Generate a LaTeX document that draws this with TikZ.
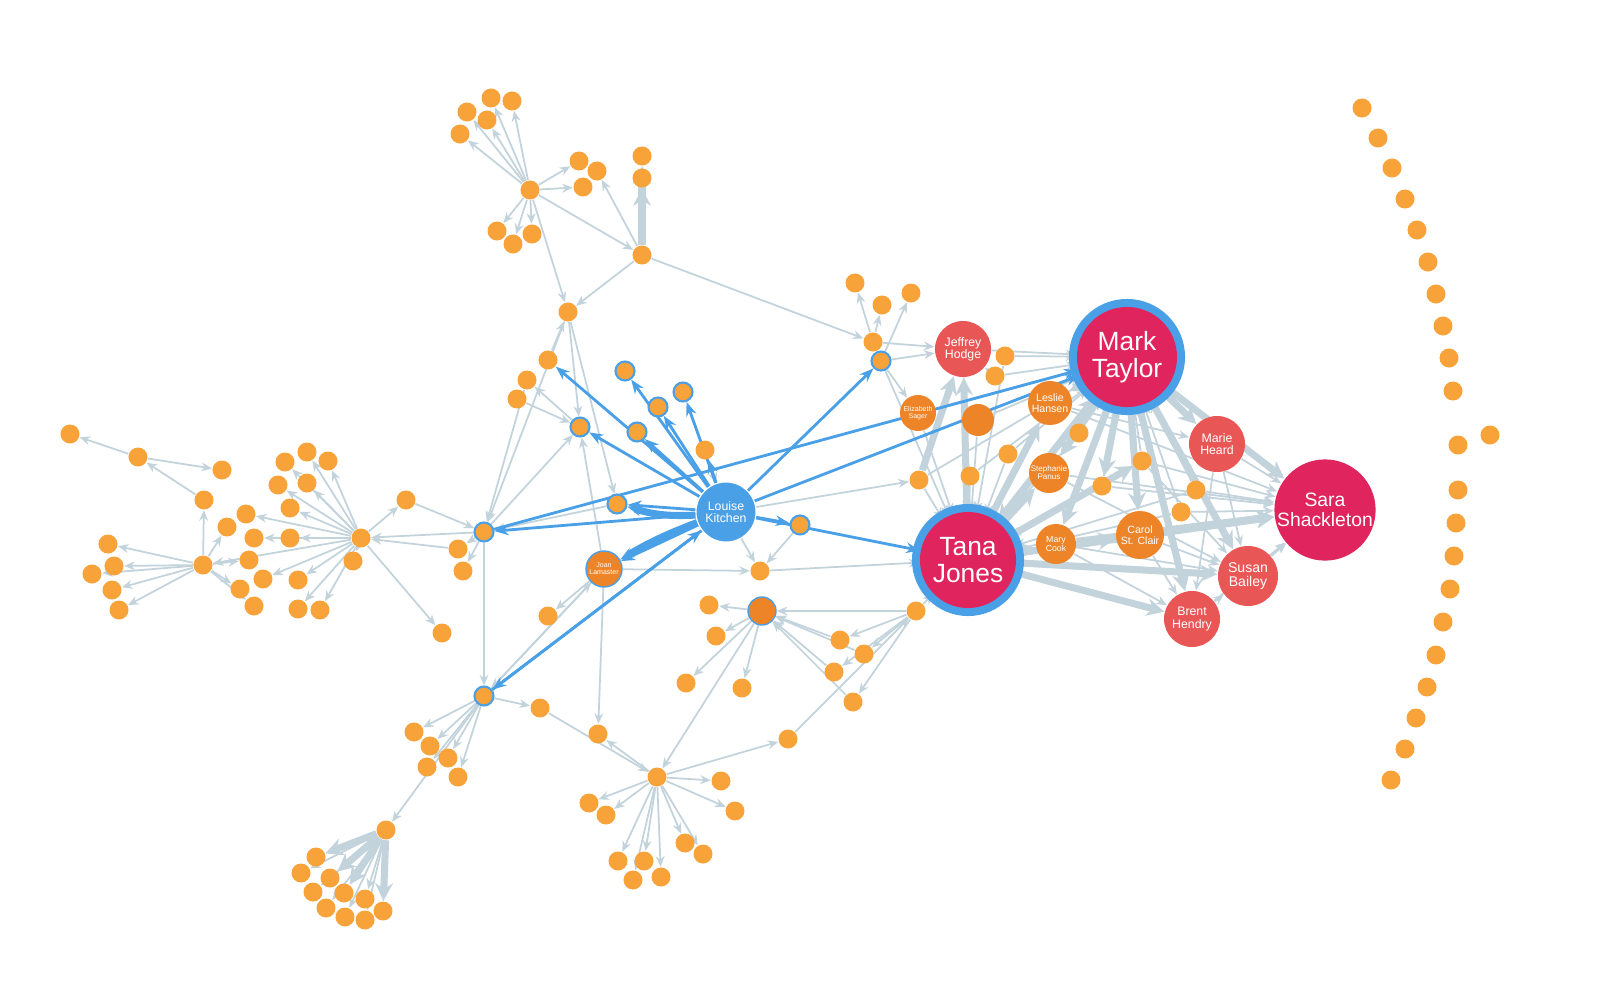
\documentclass[tikz,border=0pt]{standalone}
\usepackage{fontspec}
\setmainfont{Liberation Sans}
\usetikzlibrary{arrows.meta,backgrounds}
\definecolor{dotorange}{HTML}{F8A23A}
\definecolor{deeporange}{HTML}{EE8428}
\definecolor{hubblue}{HTML}{4AA0E6}
\definecolor{edgegrey}{HTML}{C2D3DC}
\definecolor{bigred}{HTML}{E0245E}
\definecolor{midred}{HTML}{E95656}

\begin{document}
\begin{tikzpicture}[x=0.01cm,y=-0.01cm,
    dot/.style={circle,fill=dotorange,minimum size=0.19cm,inner sep=0pt},
    ringdot/.style={dot,draw=hubblue,line width=0.6pt},
    person/.style={circle,text=white,align=center,inner sep=0pt,font=\fontsize{#1}{#1}\selectfont},
    edge/.style={draw=edgegrey,line width=0.5pt,-{Stealth[length=3pt,width=2.5pt]}},
    fatedge/.style={edge,line width=2pt,-{Stealth[length=5pt,width=5pt]}},
    blueedge/.style={draw=hubblue,line width=0.8pt,-{Stealth[length=4pt,width=3pt]}}]
  \useasboundingbox (0,0) rectangle (1600,1000);

  % small orange nodes
  \foreach \n/\x/\y in {t1/491/98,t2/512/101,t3/467/112,t4/487/120,t5/460/134,hubA/530/190,
      t6/579/161,t7/597/171,t8/583/187,t9/642/156,t10/642/178,hubB/642/255,t11/497/231,
      t12/513/244,t13/532/234,n/568/312,
      l1/70/434,l2/138/457,l3/222/470,l4/204/500,l5/246/514,l6/227/527,l7/254/538,l8/249/560,
      l9/203/565,l10/108/544,l11/114/566,l12/92/574,l13/112/590,l14/119/610,l15/240/589,
      l16/254/606,l17/263/579,l18/298/580,l19/298/609,l20/320/610,l21/290/538,l22/290/508,
      l23/278/485,l24/307/483,l25/285/462,l26/307/452,l27/328/461,hubL/361/538,l28/353/561,
      l29/406/500,l30/458/549,l31/463/571,l32/442/633,
      c2/548/360,c3/527/380,c4/517/399,c10/705/450,c13/760/571,c15/709/605,c16/716/636,
      c17/686/683,c18/742/688,c19/548/616,
      r1/855/283,r2/882/305,r3/911/293,r4/873/342,r6/1005/356,r7/995/376,
      r8/1079/433,r9/1008/454,r10/970/476,r11/919/480,r12/1142/461,r13/1102/486,r14/1196/490,
      r15/1181/512,r16/916/611,r17/840/640,r18/864/654,r19/834/672,r20/853/702,
      b2/540/708,b3/414/732,b4/430/746,b5/448/758,b6/427/767,b7/458/777,b8/598/734,
      b9/788/739,hubC/657/777,b10/721/781,b11/589/803,b12/606/815,b13/735/811,b14/618/861,
      b15/644/861,b16/633/880,b17/661/877,b18/685/843,b19/703/854,
      hubD/386/830,d1/316/857,d2/301/873,d3/330/878,d4/313/892,d5/344/893,d6/365/899,
      d7/383/911,d8/326/908,d9/345/917,d10/365/920}
    \node[dot] (\n) at (\x,\y) {};
  \foreach \n/\x/\y in {c1/484/532,c5/580/427,c6/625/371,c7/658/407,c8/683/392,c9/637/432,
      c11/617/504,c12/800/525,r5/881/361,b1/484/696}
    \node[ringdot] (\n) at (\x,\y) {};
  \node[dot,fill=deeporange,minimum size=0.28cm,draw=hubblue] (c14) at (762,611) {};

  % the arc of unconnected nodes
  \foreach \x/\y [count=\i] in {1362/108,1378/138,1392/168,1405/199,1417/230,1428/262,
      1436/294,1443/326,1449/358,1453/391,1458/445,1458/490,1456/523,1454/556,1450/589,
      1443/622,1436/655,1427/687,1416/718,1405/749,1391/780}
    \node[dot] (arc\i) at (\x,\y) {};
  \node[dot] (arcx) at (1490,435) {};

  % named people
  \fill[hubblue] (1127,357) circle (0.58cm);
  \fill[hubblue] (968,560) circle (0.56cm);
  \node[person=7.5pt,fill=bigred,minimum size=1cm] (mark) at (1127,357) {Mark\\Taylor};
  \node[person=7.5pt,fill=bigred,minimum size=0.96cm] (tana) at (968,560) {Tana\\Jones};
  \node[person=5.5pt,fill=bigred,minimum size=0.9cm] (sara) at (1325,510) {Sara\\Shackleton};
  \node[person=3.5pt,fill=hubblue,minimum size=0.6cm,draw=white,line width=0.3pt] (louise) at (726,512) {Louise\\Kitchen};
  \node[person=3.5pt,fill=midred,minimum size=0.56cm] (jeffrey) at (963,349) {Jeffrey\\Hodge};
  \node[person=3.5pt,fill=midred,minimum size=0.56cm] (marie) at (1217,444) {Marie\\Heard};
  \node[person=4pt,fill=midred,minimum size=0.6cm] (susan) at (1248,576) {Susan\\Bailey};
  \node[person=3.5pt,fill=midred,minimum size=0.56cm] (brent) at (1192,619) {Brent\\Hendry};
  \node[person=3pt,fill=deeporange,minimum size=0.44cm] (leslie) at (1050,403) {Leslie\\Hansen};
  \node[person=2.3pt,fill=deeporange,minimum size=0.4cm] (stephanie) at (1049,473) {Stephanie\\Panus};
  \node[person=2.5pt,fill=deeporange,minimum size=0.4cm] (mary) at (1056,544) {Mary\\Cook};
  \node[person=3pt,fill=deeporange,minimum size=0.48cm] (carol) at (1140,535) {Carol\\St. Clair};
  \node[person=2pt,fill=deeporange,minimum size=0.36cm] (eliz) at (918,413) {Elizabeth\\Sager};
  \node[person=2pt,fill=deeporange,minimum size=0.32cm] (unl) at (978,420) {};
  \node[person=2pt,fill=deeporange,minimum size=0.36cm,draw=hubblue] (joan) at (604,569) {Joan\\Lamaster};

  \begin{scope}[on background layer]
  % grey connectors
  \foreach \a/\b in {hubA/t1,hubA/t2,hubA/t3,hubA/t4,hubA/t5,hubA/t11,hubA/t12,hubA/t13,
      hubA/t6,hubA/t8,hubA/hubB,hubA/n,hubB/t7,hubB/n,hubB/r4,n/c5,n/c1,n/c11,c5/c3,c2/n,
      hubL/l22,hubL/l23,hubL/l24,hubL/l25,hubL/l26,hubL/l27,hubL/l21,hubL/l18,hubL/l19,
      hubL/l20,hubL/l5,hubL/l7,hubL/l17,hubL/l28,hubL/l29,c1/hubL,hubL/l9,hubL/l32,
      l9/l10,l9/l11,l9/l12,l9/l13,l9/l14,l9/l4,l9/l8,l9/l6,l9/l15,l9/l16,l2/l1,l2/l3,l4/l2,
      c1/l30,c1/l31,c1/b1,c1/c5,joan/c5,joan/b1,joan/c13,joan/b8,joan/c19,c4/c5,
      c14/c15,c14/c16,c14/c17,c14/c18,c14/hubC,r16/c14,r17/c14,r18/c14,r19/c14,r20/c14,
      r16/r17,r16/r18,r16/r19,r16/r20,r16/tana,c13/tana,
      b1/b3,b1/b4,b1/b5,b1/b6,b1/b7,b1/hubD,b1/b2,b1/joan,
      hubC/b8,hubC/b9,hubC/b10,hubC/b11,hubC/b12,hubC/b13,hubC/b14,hubC/b15,hubC/b16,
      hubC/b17,hubC/b18,hubC/b19,b2/hubC,b9/r16,
      hubD/d1,hubD/d2,hubD/d3,hubD/d4,hubD/d5,hubD/d6,hubD/d7,hubD/d8,hubD/d9,hubD/d10,
      r4/r1,r4/r2,r5/r3,r5/jeffrey,r4/jeffrey,r5/eliz,r5/tana,r11/tana,c12/c13,
      jeffrey/mark,r6/mark,r7/mark,r8/mark,r9/mark,r12/mark,r13/mark,r14/mark,r15/mark,
      eliz/mark,unl/mark,r10/mark,r11/mark,r9/tana,r10/tana,r12/tana,r13/tana,r14/tana,
      r15/tana,eliz/tana,unl/tana,jeffrey/tana,r8/tana,r7/jeffrey,r6/tana,
      marie/sara,susan/sara,brent/sara,carol/sara,r12/sara,r14/sara,r15/sara,r13/sara,
      mary/susan,mary/brent,carol/brent,carol/susan,stephanie/sara,leslie/sara,
      marie/brent,marie/susan,r12/susan,stephanie/susan,leslie/marie,brent/susan,
      louise/r11,louise/c13,c11/c1,c10/louise,c3/c1,l29/c1,l30/hubL}
    \draw[edge] (\a) -- (\b);
  \foreach \a/\b in {hubB/t9,hubB/t10,hubD/d1,hubD/d3,hubD/d5,hubD/d7,
      mark/tana,tana/mark,mark/sara,mark/marie,mark/susan,mark/brent,tana/sara,tana/susan,
      tana/brent,mark/carol,mark/mary,mark/stephanie,tana/carol,tana/mary,tana/stephanie,
      tana/leslie,mark/leslie,tana/jeffrey,mary/sara,tana/r12,mark/r13,r11/jeffrey}
    \draw[fatedge] (\a) -- (\b);

  % blue connectors
  \foreach \b in {c6,c7,c8,c9,c10,c11,joan,c12,c1,b1,r5,mark,tana,c5,c2}
    \draw[blueedge] (louise) -- (\b);
  \draw[blueedge,line width=2pt] (louise) to[bend left=10] (c11);
  \draw[blueedge,line width=2pt] (louise) to[bend right=5] (joan);
  \draw[blueedge] (b1) -- (louise);
  \draw[blueedge] (c1) -- (mark);
  \end{scope}
\end{tikzpicture}
\end{document}
